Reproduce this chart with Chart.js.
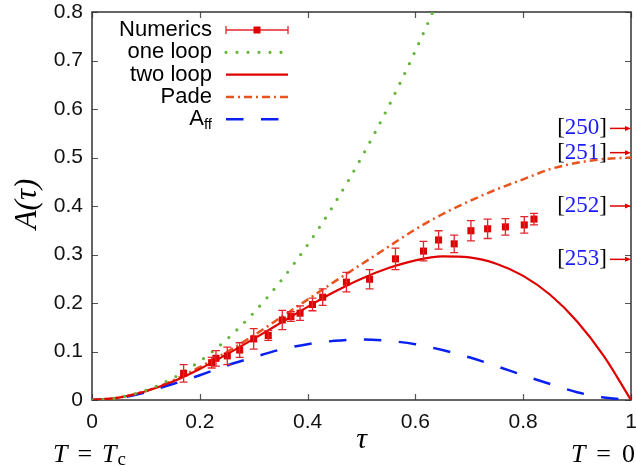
<!DOCTYPE html>
<html>
<head>
<meta charset="utf-8">
<script src="https://cdn.jsdelivr.net/npm/chart.js@4.4.1/dist/chart.umd.min.js"></script>
<style>
  html, body { margin: 0; padding: 0; background: #fff; }
  #wrap { width: 636px; height: 466px; position: relative; }
</style>
</head>
<body>
<div id="wrap"><canvas id="chartA"></canvas></div>
<script>
// Numerical results with error bars
const numTau = [0.170, 0.222, 0.230, 0.251, 0.274, 0.300, 0.327, 0.353, 0.369, 0.386, 0.409, 0.428,
                0.472, 0.515, 0.563, 0.615, 0.643, 0.672, 0.703, 0.734, 0.767, 0.802, 0.820];
const numA   = [0.055, 0.077, 0.086, 0.091, 0.103, 0.126, 0.133, 0.165, 0.172, 0.179, 0.197, 0.212,
                0.243, 0.249, 0.291, 0.307, 0.330, 0.322, 0.349, 0.353, 0.357, 0.361, 0.373];
const numErr = [0.018, 0.011, 0.016, 0.018, 0.015, 0.021, 0.010, 0.020, 0.010, 0.015, 0.013, 0.017,
                0.020, 0.020, 0.022, 0.020, 0.019, 0.018, 0.021, 0.020, 0.017, 0.017, 0.012];

// Curves
const curveTau = [0, 0.05, 0.1, 0.15, 0.2, 0.25, 0.3, 0.35, 0.4, 0.45, 0.5,
                  0.55, 0.6, 0.65, 0.7, 0.75, 0.8, 0.85, 0.9, 0.95, 1];
const oneLoopTau = [0, 0.05, 0.1, 0.15, 0.2, 0.25, 0.3, 0.35, 0.4, 0.45, 0.5, 0.55, 0.6, 0.65];
const oneLoopA   = [0, 0.005, 0.020, 0.045, 0.080, 0.125, 0.180, 0.245, 0.320, 0.405, 0.500, 0.605, 0.720, 0.845];
const twoLoopA = [0, 0.005, 0.018, 0.038, 0.064, 0.094, 0.126, 0.159, 0.192, 0.223, 0.250,
                  0.272, 0.288, 0.296, 0.294, 0.281, 0.256, 0.217, 0.162, 0.090, 0];
const padeA    = [0, 0.005, 0.019, 0.040, 0.068, 0.099, 0.133, 0.170, 0.207, 0.244, 0.280,
                  0.316, 0.352, 0.383, 0.410, 0.434, 0.455, 0.476, 0.489, 0.497, 0.500];
const affA     = [0, 0.004, 0.016, 0.033, 0.051, 0.071, 0.088, 0.104, 0.115, 0.122, 0.125,
                  0.122, 0.115, 0.103, 0.088, 0.070, 0.051, 0.033, 0.016, 0.005, 0];

// Literature values at tau = 1
const refLabels = ['250', '251', '252', '253'];
const refValues = [0.56, 0.51, 0.40, 0.29];

const xTicks = [0, 0.2, 0.4, 0.6, 0.8, 1];
const yTicks = [0, 0.1, 0.2, 0.3, 0.4, 0.5, 0.6, 0.7, 0.8];

const C_NUM = '#dd0000', C_ERR = '#e2262c', C_ONE = '#62b537', C_TWO = '#e00000',
      C_PADE = '#e8531e', C_AFF = '#0a20f0';
const DASH_ONE = [0, 11], DASH_PADE = [8, 4, 2, 4], DASH_AFF = [17.5, 17.5];

function pts(xs, ys) { return xs.map((x, i) => ({ x: x, y: ys[i] })); }
function fmt(v) { return (v === 0 || v === 1) ? String(v) : v.toFixed(1); }

const SANS = '"Liberation Sans", Arial, sans-serif';
const SERIF = '"Liberation Serif", "Times New Roman", serif';

// draw a run of text pieces left to right; returns end x
function drawRun(ctx, x, y, parts, measureOnly) {
  let cx = x;
  parts.forEach(p => {
    ctx.font = p.font;
    if (!measureOnly) { ctx.fillStyle = p.color || '#000'; ctx.fillText(p.t, cx, y + (p.dy || 0)); }
    cx += ctx.measureText(p.t).width + (p.gap || 0);
  });
  return cx;
}

const framePlugin = {
  id: 'frame',
  beforeDatasetsDraw(chart) {
    const { ctx, chartArea: a, scales: { x, y } } = chart;
    ctx.save();
    ctx.strokeStyle = '#555';
    ctx.lineWidth = 1.2;
    x.ticks.forEach(t => {
      const px = Math.round(x.getPixelForValue(t.value)) + 0.5;
      ctx.beginPath();
      ctx.moveTo(px, a.bottom); ctx.lineTo(px, a.bottom - 6);
      ctx.moveTo(px, a.top); ctx.lineTo(px, a.top + 6);
      ctx.stroke();
    });
    y.ticks.forEach(t => {
      const py = Math.round(y.getPixelForValue(t.value)) + 0.5;
      ctx.beginPath();
      ctx.moveTo(a.left, py); ctx.lineTo(a.left + 6, py);
      ctx.moveTo(a.right, py); ctx.lineTo(a.right - 6, py);
      ctx.stroke();
    });
    ctx.strokeStyle = '#333';
    ctx.lineWidth = 1.5;
    ctx.strokeRect(a.left, a.top, a.right - a.left, a.bottom - a.top);

    // tick labels
    ctx.fillStyle = '#111';
    ctx.font = '21px ' + SANS;
    ctx.textBaseline = 'middle';
    ctx.textAlign = 'center';
    x.ticks.forEach(t => ctx.fillText(fmt(t.value), x.getPixelForValue(t.value), a.bottom + 22));
    ctx.textAlign = 'right';
    y.ticks.forEach(t => ctx.fillText(fmt(t.value), a.left - 9, y.getPixelForValue(t.value)));
    ctx.restore();
  },
  afterDatasetDraw(chart, args) {
    if (args.index !== 0) return;
    const { ctx, scales: { x, y } } = chart;
    ctx.save();
    ctx.strokeStyle = C_ERR;
    ctx.lineWidth = 1.3;
    numTau.forEach((t, i) => {
      const px = x.getPixelForValue(t);
      const y1 = y.getPixelForValue(numA[i] - numErr[i]);
      const y2 = y.getPixelForValue(numA[i] + numErr[i]);
      ctx.beginPath();
      ctx.moveTo(px, y1); ctx.lineTo(px, y2);
      ctx.moveTo(px - 4, y1); ctx.lineTo(px + 4, y1);
      ctx.moveTo(px - 4, y2); ctx.lineTo(px + 4, y2);
      ctx.stroke();
    });
    ctx.restore();
  },
  afterDraw(chart) {
    const { ctx, chartArea: a, scales: { x, y } } = chart;
    ctx.save();

    // legend, text right-aligned with line samples
    const rows = [
      { label: 'Numerics', kind: 'num' },
      { label: 'one loop', color: C_ONE, dash: DASH_ONE, w: 3.2, cap: 'round' },
      { label: 'two loop', color: C_TWO, dash: [], w: 2.2 },
      { label: 'Pade', color: C_PADE, dash: DASH_PADE, w: 2.5 },
      { label: 'A', sub: 'ff', color: C_AFF, dash: DASH_AFF, w: 2.5 }
    ];
    const tx = 212, sx0 = 226, sx1 = 288;
    rows.forEach((r, i) => {
      const ry = 30 + i * 22.3;
      ctx.fillStyle = '#000';
      ctx.textBaseline = 'middle';
      ctx.textAlign = 'right';
      if (r.sub) {
        ctx.font = '15px ' + SANS;
        const sw = ctx.measureText(r.sub).width;
        ctx.fillText(r.sub, tx, ry + 6);
        ctx.font = '22px ' + SANS;
        ctx.fillText(r.label, tx - sw, ry);
      } else {
        ctx.font = '22px ' + SANS;
        ctx.fillText(r.label, tx, ry);
      }
      if (r.kind === 'num') {
        ctx.strokeStyle = C_ERR;
        ctx.lineWidth = 1.3;
        ctx.beginPath();
        ctx.moveTo(sx0, ry); ctx.lineTo(sx1, ry);
        ctx.moveTo(sx0, ry - 4); ctx.lineTo(sx0, ry + 4);
        ctx.moveTo(sx1, ry - 4); ctx.lineTo(sx1, ry + 4);
        ctx.stroke();
        ctx.fillStyle = C_NUM;
        ctx.fillRect((sx0 + sx1) / 2 - 3.5, ry - 3.5, 7, 7);
      } else {
        ctx.strokeStyle = r.color;
        ctx.lineWidth = r.w;
        ctx.lineCap = r.cap || 'butt';
        ctx.setLineDash(r.dash);
        ctx.beginPath();
        ctx.moveTo(sx0, ry); ctx.lineTo(sx1, ry);
        ctx.stroke();
        ctx.setLineDash([]);
        ctx.lineCap = 'butt';
      }
    });

    // reference markers on the right axis
    ctx.font = '23px ' + SERIF;
    ctx.textBaseline = 'middle';
    ctx.textAlign = 'left';
    refLabels.forEach((lab, i) => {
      const py = y.getPixelForValue(refValues[i]);
      const parts = [{ t: '[', font: ctx.font }, { t: lab, font: ctx.font, color: '#1a1aff' }, { t: ']', font: ctx.font }];
      const w = drawRun(ctx, 0, 0, parts, true);
      drawRun(ctx, 607 - w, py, parts);
      ctx.strokeStyle = C_TWO;
      ctx.fillStyle = C_TWO;
      ctx.lineWidth = 1.5;
      ctx.beginPath();
      ctx.moveTo(610, py); ctx.lineTo(a.right - 4, py);
      ctx.stroke();
      ctx.beginPath();
      ctx.moveTo(a.right, py); ctx.lineTo(a.right - 6, py - 2.5); ctx.lineTo(a.right - 6, py + 2.5);
      ctx.closePath();
      ctx.fill();
    });

    // axis titles
    ctx.fillStyle = '#000';
    ctx.textAlign = 'center';
    ctx.font = 'italic 30px ' + SERIF;
    ctx.fillText('\u03C4', (a.left + a.right) / 2, 440);

    ctx.save();
    ctx.translate(28, 204);
    ctx.rotate(-Math.PI / 2);
    ctx.font = 'italic 31px ' + SERIF;
    ctx.fillText('A(\u03C4)', 0, 0);
    ctx.restore();

    // temperature limits below the axis ends
    ctx.textAlign = 'left';
    const it = 'italic 26px ' + SERIF, up = '26px ' + SERIF;
    const left = [{ t: 'T', font: it, gap: 10 }, { t: '=', font: up, gap: 10 }, { t: 'T', font: it, gap: 1 },
                  { t: 'c', font: '19px ' + SERIF, dy: 5 }];
    drawRun(ctx, 53, 455, left);
    const right = [{ t: 'T', font: it, gap: 11 }, { t: '=', font: up, gap: 11 }, { t: '0', font: up }];
    const rw = drawRun(ctx, 0, 0, right, true);
    drawRun(ctx, 635 - rw, 455, right);
    ctx.restore();
  }
};

new Chart(document.getElementById('chartA'), {
  type: 'scatter',
  data: {
    datasets: [
      { label: 'Numerics', data: pts(numTau, numA), pointStyle: 'rect', pointRadius: 5,
        pointBackgroundColor: C_NUM, pointBorderWidth: 0, showLine: false },
      { label: 'one loop', data: pts(oneLoopTau, oneLoopA), showLine: true, pointRadius: 0,
        borderColor: C_ONE, borderWidth: 3.2, borderDash: DASH_ONE, borderCapStyle: 'round',
        cubicInterpolationMode: 'monotone' },
      { label: 'two loop', data: pts(curveTau, twoLoopA), showLine: true, pointRadius: 0,
        borderColor: C_TWO, borderWidth: 2.2, cubicInterpolationMode: 'monotone' },
      { label: 'Pade', data: pts(curveTau, padeA), showLine: true, pointRadius: 0,
        borderColor: C_PADE, borderWidth: 2.5, borderDash: DASH_PADE, cubicInterpolationMode: 'monotone' },
      { label: 'A_ff', data: pts(curveTau, affA), showLine: true, pointRadius: 0,
        borderColor: C_AFF, borderWidth: 2.5, borderDash: DASH_AFF, cubicInterpolationMode: 'monotone' }
    ]
  },
  options: {
    responsive: true,
    maintainAspectRatio: false,
    animation: false,
    layout: { padding: { top: 12, right: 5, left: 0, bottom: 0 } },
    plugins: { legend: { display: false }, tooltip: { enabled: false } },
    scales: {
      x: {
        type: 'linear', min: 0, max: 1,
        grid: { display: false, drawTicks: false },
        border: { display: false },
        ticks: { display: false },
        afterBuildTicks: s => { s.ticks = xTicks.map(v => ({ value: v })); },
        afterFit: s => { s.height = 66; }
      },
      y: {
        type: 'linear', min: 0, max: 0.8,
        grid: { display: false, drawTicks: false },
        border: { display: false },
        ticks: { display: false },
        afterBuildTicks: s => { s.ticks = yTicks.map(v => ({ value: v })); },
        afterFit: s => { s.width = 92; }
      }
    }
  },
  plugins: [framePlugin]
});
</script>
</body>
</html>
